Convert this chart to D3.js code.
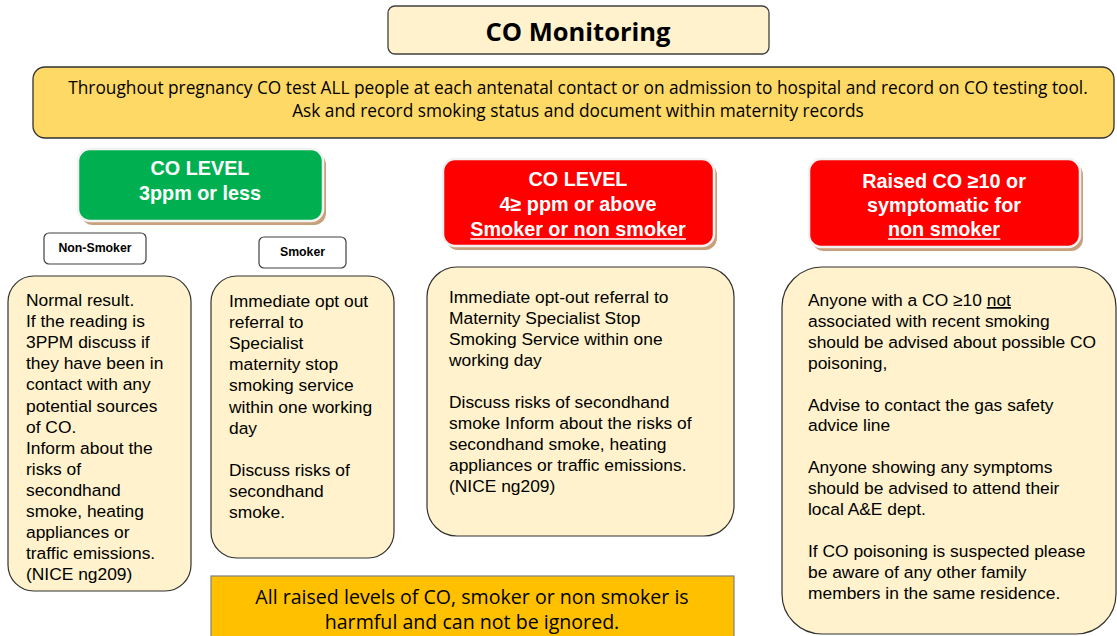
<!DOCTYPE html>
<html>
<head>
<meta charset="utf-8">
<script src="https://cdn.jsdelivr.net/npm/d3@7"></script>
<style>
  html, body { margin: 0; padding: 0; background: #ffffff; }
  svg { display: block; }
</style>
</head>
<body>
<div id="chart"></div>
<script>
// Texts of the flow chart
var titleText = "CO Monitoring";
var bannerLines = [
  "Throughout pregnancy CO test ALL people at each antenatal contact or on admission to hospital and record on CO testing tool.",
  "Ask and record smoking status and document within maternity records"
];
var greenLines = ["CO LEVEL", "3ppm or less"];
var midRedLines = ["CO LEVEL", "4\u2265 ppm or above", "_Smoker or non smoker"];
var rightRedLines = ["Raised CO \u226510 or", "symptomatic for", "_non smoker"];
var tagLabels = ["Non-Smoker", "Smoker"];
var nonSmokerLines = [
  "Normal result.", "If the reading is", "3PPM discuss if", "they have been in",
  "contact with any", "potential sources", "of CO.", "Inform about the",
  "risks of", "secondhand", "smoke, heating", "appliances or",
  "traffic emissions.", "(NICE ng209)"
];
var smokerLines = [
  "Immediate opt out", "referral to", "Specialist", "maternity stop",
  "smoking service", "within one working", "day", "",
  "Discuss risks of", "secondhand", "smoke."
];
var midLines = [
  "Immediate opt-out referral to", "Maternity Specialist Stop",
  "Smoking Service within one", "working day", "",
  "Discuss risks of secondhand", "smoke Inform about the risks of",
  "secondhand smoke, heating", "appliances or traffic emissions.", "(NICE ng209)"
];
var rightLines = [
  "Anyone with a CO \u226510 |not", "associated with recent smoking",
  "should be advised about possible CO", "poisoning,", "",
  "Advise to contact the gas safety", "advice line", "",
  "Anyone showing any symptoms", "should be advised to attend their",
  "local A&E dept.", "",
  "If CO poisoning is suspected please", "be aware of any other family",
  "members in the same residence."
];
var footerLines = [
  "All raised levels of CO, smoker or non smoker is",
  "harmful and can not be ignored."
];

var W = 1117, H = 636;
var calibri = "'Open Sans', Lato, sans-serif";
var arial = "'Liberation Sans', Arial, sans-serif";

var svg = d3.select("#chart").append("svg")
  .attr("width", W).attr("height", H);

function box(x, y, w, h, r, fill, stroke, sw) {
  return svg.append("rect")
    .attr("x", x).attr("y", y).attr("width", w).attr("height", h)
    .attr("rx", r).attr("ry", r)
    .attr("fill", fill).attr("stroke", stroke).attr("stroke-width", sw);
}

// a coloured header box with a soft brown shadow and white rim
function headerBox(x, y, w, h, fill) {
  box(x + 3, y + 4, w, h, 12, "#c8a07c", "none", 0);
  box(x, y, w, h, 12, fill, "#f2f2f2", 2.5);
}

// write lines; a leading "_" underlines the whole line, "|" starts an underlined tail
function writeLines(lines, opt) {
  var g = svg.append("g");
  lines.forEach(function(line, i) {
    if (line === "") return;
    var y = opt.y + i * opt.step;
    var under = line.charAt(0) === "_";
    var txt = under ? line.slice(1) : line;
    var t = g.append("text")
      .attr("x", opt.x).attr("y", y)
      .attr("text-anchor", opt.anchor || "start")
      .attr("font-family", opt.font)
      .attr("font-size", opt.size)
      .attr("font-weight", opt.weight || "normal")
      .attr("fill", opt.color || "#000");
    var parts = txt.split("|");
    t.append("tspan").text(parts[0]);
    if (parts.length > 1) {
      t.append("tspan").text(parts[1]).style("text-decoration", "underline");
    }
    if (under) {
      var bb = t.node().getBBox();
      g.append("line")
        .attr("x1", bb.x).attr("x2", bb.x + bb.width)
        .attr("y1", y + 3).attr("y2", y + 3)
        .attr("stroke", opt.color || "#000").attr("stroke-width", 1.7);
    }
  });
  return g;
}

// title
box(388, 6, 381, 48, 7, "#fff2cc", "#404040", 1.3);
writeLines([titleText], {x: 578, y: 41, step: 0, anchor: "middle",
  font: calibri, size: 25.5, weight: "bold"});

// banner
box(33, 67, 1081, 71, 12, "#ffd966", "#303030", 1.3);
writeLines(bannerLines, {x: 578, y: 94, step: 23, anchor: "middle",
  font: calibri, size: 17.3});

// green level box
headerBox(78, 149, 245, 72, "#00b050");
writeLines(greenLines, {x: 200, y: 175, step: 25, anchor: "middle",
  font: arial, size: 19.8, weight: "bold", color: "#fff"});

// smoker tags
box(44, 233, 102, 31, 5, "#ffffff", "#404040", 1.2);
writeLines([tagLabels[0]], {x: 95, y: 252, step: 0, anchor: "middle",
  font: arial, size: 12.3, weight: "bold"});
box(259, 237, 87, 31, 5, "#ffffff", "#404040", 1.2);
writeLines([tagLabels[1]], {x: 302.5, y: 256, step: 0, anchor: "middle",
  font: arial, size: 12.3, weight: "bold"});

// red level boxes
headerBox(443, 159, 271, 87, "#ff0000");
writeLines(midRedLines, {x: 578, y: 186, step: 25, anchor: "middle",
  font: arial, size: 19.8, weight: "bold", color: "#fff"});
headerBox(809, 159, 271, 88, "#ff0000");
writeLines(rightRedLines, {x: 944, y: 188, step: 24, anchor: "middle",
  font: arial, size: 19.8, weight: "bold", color: "#fff"});

// advice boxes
box(8, 276, 183, 315, 26, "#fff2cc", "#303030", 1.2);
writeLines(nonSmokerLines, {x: 26, y: 306, step: 21.1, font: arial, size: 17.4});
box(211, 276, 183, 282, 26, "#fff2cc", "#303030", 1.2);
writeLines(smokerLines, {x: 229, y: 307, step: 21.1, font: arial, size: 17.4});
box(427, 267, 307, 269, 30, "#fff2cc", "#303030", 1.2);
writeLines(midLines, {x: 449, y: 303, step: 21, font: arial, size: 17.4});
box(782, 267, 334, 367, 40, "#fff2cc", "#303030", 1.2);
writeLines(rightLines, {x: 808, y: 306, step: 20.9, font: arial, size: 17.4});

// footer
box(211, 576, 523, 70, 0, "#ffc000", "#7f7f7f", 1.2);
writeLines(footerLines, {x: 472, y: 604, step: 25, anchor: "middle",
  font: calibri, size: 19.6});
</script>
</body>
</html>
